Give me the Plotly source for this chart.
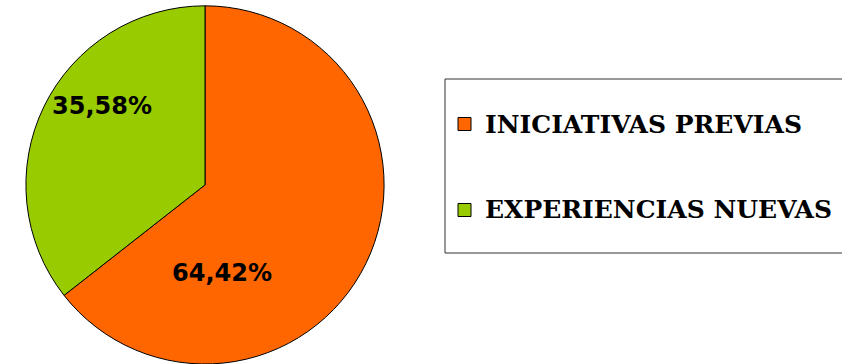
import plotly.graph_objects as go

labels = ["INICIATIVAS PREVIAS", "EXPERIENCIAS NUEVAS"]
values = [64.42, 35.58]
text_labels = ["64,42%", "35,58%"]
colors = ["#FF6600", "#99CC00"]

W, H = 842, 364

fig = go.Figure()
fig.add_trace(go.Pie(
    labels=labels,
    values=values,
    textinfo="none",
    sort=False,
    direction="clockwise",
    rotation=0,
    marker=dict(colors=colors, line=dict(color="black", width=1)),
    domain=dict(x=[0, 205 * 2 / W], y=[0, 0.984]),
    showlegend=False,
    hoverinfo="label+percent",
))

# percentage labels, placed where the reference puts them
label_pos = [(222, 273), (102, 106)]
for t, (px, py) in zip(text_labels, label_pos):
    fig.add_annotation(x=px / W, y=1 - py / H, xref="paper", yref="paper",
                       text=t, showarrow=False, xanchor="center", yanchor="middle",
                       font=dict(family="DejaVu Sans", size=24, color="black", weight="bold"))

# legend frame
fig.add_shape(type="rect", xref="paper", yref="paper",
              x0=445 / W, x1=900 / W, y0=1 - 253 / H, y1=1 - 79 / H,
              line=dict(color="#333333", width=1), fillcolor="white", layer="below")

ys = [124, 210]
for lab, col, yc in zip(labels, colors, ys):
    fig.add_shape(type="rect", xref="paper", yref="paper",
                  x0=458 / W, x1=471 / W, y0=1 - (yc + 6.5) / H, y1=1 - (yc - 6.5) / H,
                  line=dict(color="black", width=1), fillcolor=col)
    fig.add_annotation(x=483 / W, y=1 - yc / H, xref="paper", yref="paper",
                       text=lab, showarrow=False, xanchor="left", yanchor="middle",
                       font=dict(family="DejaVu Serif", size=25, color="black", weight="bold"))

fig.update_layout(
    width=W, height=H,
    margin=dict(l=0, r=0, t=0, b=0),
    paper_bgcolor="white",
    plot_bgcolor="white",
)
fig.write_html("out.html")
